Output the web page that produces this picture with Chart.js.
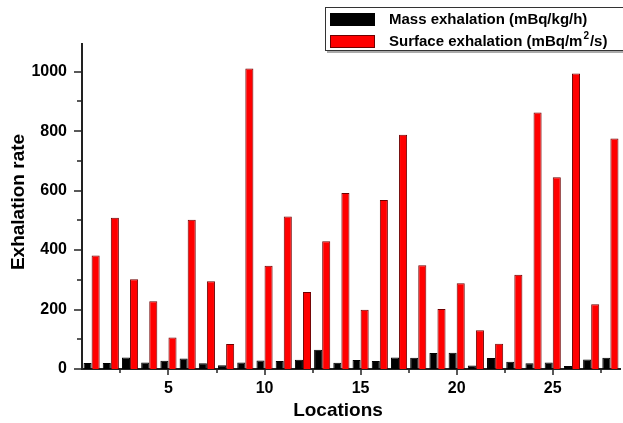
<!DOCTYPE html>
<html>
<head>
<meta charset="utf-8">
<script src="https://cdn.jsdelivr.net/npm/chart.js@4/dist/chart.umd.min.js"></script>
<style>
  body { margin: 0; background: #fff; }
  canvas { display: block; }
</style>
</head>
<body>
<canvas id="myChart" width="623" height="423"></canvas>
<script>
const locations = [1, 2, 3, 4, 5, 6, 7, 8, 9, 10, 11, 12, 13, 14, 15, 16, 17, 18, 19, 20, 21, 22, 23, 24, 25, 26, 27, 28];
const massExhalation = [20, 20, 39, 22, 28, 35, 19, 13, 22, 29, 27, 31, 65, 21, 30, 27, 39, 38, 54, 55, 12, 37, 24, 19, 22, 10, 32, 38];
const surfaceExhalation = [382, 509, 302, 228, 106, 502, 295, 84, 1011, 347, 513, 259, 430, 592, 199, 568, 788, 349, 202, 288, 130, 85, 317, 863, 645, 994, 218, 775];
const xTicks = [2.5, 5, 7.5, 10, 12.5, 15, 17.5, 20, 22.5, 25, 27.5];
const xLabels = [5, 10, 15, 20, 25];
const yTicks = [0, 100, 200, 300, 400, 500, 600, 700, 800, 900, 1000];
const yLabels = [0, 200, 400, 600, 800, 1000];
const seriesLabels = ['Mass exhalation (mBq/kg/h)', 'Surface exhalation (mBq/m', '2', '/s)'];

const FONT = '"Liberation Sans", Arial, sans-serif';
const context = document.getElementById('myChart').getContext('2d');

const toPoints = values => locations.map((x, i) => ({x, y: values[i]}));

// tick marks, titles and the boxed legend are drawn here
const decorations = {
  id: 'decorations',
  afterDraw(chart) {
    const {ctx, scales: {x, y}, chartArea} = chart;
    ctx.save();
    ctx.strokeStyle = '#222';
    ctx.lineWidth = 1.5;
    xTicks.forEach(v => {
      const px = Math.round(x.getPixelForValue(v));
      const len = xLabels.includes(v) ? 6 : 4;
      ctx.beginPath();
      ctx.moveTo(px, chartArea.bottom);
      ctx.lineTo(px, chartArea.bottom + len);
      ctx.stroke();
    });
    yTicks.forEach(v => {
      const py = Math.round(y.getPixelForValue(v));
      const len = yLabels.includes(v) ? 8 : 5;
      ctx.beginPath();
      ctx.moveTo(chartArea.left, py);
      ctx.lineTo(chartArea.left - len, py);
      ctx.stroke();
    });

    // axis titles
    ctx.fillStyle = '#000';
    ctx.font = `bold 19px ${FONT}`;
    ctx.textAlign = 'center';
    ctx.textBaseline = 'middle';
    ctx.fillText('Locations', 338, 411);
    ctx.save();
    ctx.translate(19, 202);
    ctx.rotate(-Math.PI / 2);
    ctx.fillText('Exhalation rate', 0, 0);
    ctx.restore();

    // legend
    const ds = chart.data.datasets;
    ctx.fillStyle = '#aaa';
    ctx.fillRect(327, 9, 300, 44);
    ctx.fillStyle = '#fff';
    ctx.fillRect(325, 7, 300, 43);
    ctx.strokeStyle = '#333';
    ctx.lineWidth = 1;
    ctx.strokeRect(325.5, 7.5, 300, 43);

    ctx.fillStyle = ds[0].backgroundColor;
    ctx.fillRect(330, 13, 45, 13);
    ctx.fillStyle = ds[1].backgroundColor;
    ctx.fillRect(330, 35, 45, 13);
    ctx.strokeStyle = ds[1].borderColor;
    ctx.strokeRect(330.5, 35.5, 44, 12);

    ctx.fillStyle = '#000';
    ctx.textAlign = 'left';
    ctx.textBaseline = 'middle';
    ctx.font = `bold 15px ${FONT}`;
    ctx.fillText(seriesLabels[0], 389, 19.5);
    let tx = 389;
    ctx.fillText(seriesLabels[1], tx, 42);
    tx += ctx.measureText(seriesLabels[1]).width;
    ctx.font = `bold 10px ${FONT}`;
    ctx.fillText(seriesLabels[2], tx + 1, 36);
    tx += ctx.measureText(seriesLabels[2]).width + 2;
    ctx.font = `bold 15px ${FONT}`;
    ctx.fillText(seriesLabels[3], tx, 42);
    ctx.restore();
  }
};

new Chart(context, {
  type: 'bar',
  data: {
    datasets: [
      {
        label: 'Mass exhalation (mBq/kg/h)',
        data: toPoints(massExhalation),
        backgroundColor: '#000000',
        borderColor: '#000000',
        borderWidth: 1
      },
      {
        label: 'Surface exhalation (mBq/m²/s)',
        data: toPoints(surfaceExhalation),
        backgroundColor: '#ff0000',
        borderColor: '#6e0000',
        borderWidth: 1
      }
    ]
  },
  options: {
    responsive: false,
    animation: false,
    barPercentage: 1,
    categoryPercentage: 0.84,
    layout: {padding: {top: 44, right: 3, left: 0, bottom: 0}},
    plugins: {
      legend: {display: false},
      tooltip: {enabled: false}
    },
    scales: {
      x: {
        type: 'linear',
        offset: false,
        min: 0.5,
        max: 28.5,
        afterBuildTicks: scale => { scale.ticks = xLabels.map(value => ({value})); },
        afterFit: scale => { scale.height = 54; },
        grid: {display: false, drawTicks: false},
        border: {display: true, color: '#222', width: 2},
        ticks: {
          autoSkip: false,
          maxRotation: 0,
          padding: 10,
          color: '#000',
          font: {family: FONT, size: 16, weight: 'bold'},
          callback: v => String(v)
        }
      },
      y: {
        min: 0,
        max: 1093,
        afterBuildTicks: scale => { scale.ticks = yLabels.map(value => ({value})); },
        afterFit: scale => { scale.width = 82; },
        grid: {display: false, drawTicks: false},
        border: {display: true, color: '#222', width: 2},
        ticks: {
          autoSkip: false,
          padding: 15,
          color: '#000',
          font: {family: FONT, size: 16, weight: 'bold'},
          callback: v => String(v)
        }
      }
    }
  },
  plugins: [decorations]
});
</script>
</body>
</html>
